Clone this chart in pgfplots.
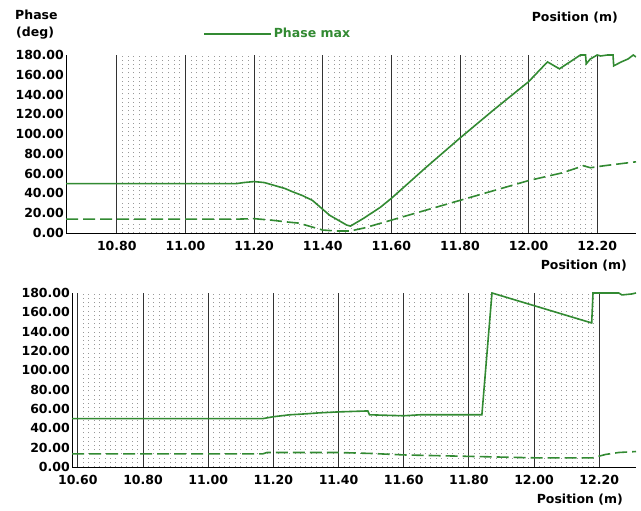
\documentclass[border=0pt]{standalone}
\usepackage{fontspec}
\setmainfont{DejaVu Sans}
\usepackage{pgfplots}
\pgfplotsset{compat=1.18}
\definecolor{phasegreen}{RGB}{50,138,50}

\newcommand{\lbl}{\fontsize{12.5bp}{15bp}\selectfont\bfseries}

% Top panel: phase along position
\pgfplotstableread{
x y
10.652 50
11.15 50
11.17 51
11.20 52
11.23 51
11.26 48
11.29 45
11.31 42
11.34 38
11.37 33
11.39 27
11.42 18
11.45 12
11.47 8
11.481 7
11.52 15
11.568 26
11.60 35
11.70 66
11.80 96
11.90 125
12.00 153
12.055 173
12.09 166
12.151 180
12.166 180
12.168 171
12.18 176
12.20 180
12.21 179
12.23 180
12.246 180
12.248 169
12.27 173
12.29 176
12.305 180
12.313 178
}\topmax
\pgfplotstableread{
x y
10.652 14
11.15 14
11.20 14.5
11.25 13
11.30 11
11.33 10
11.37 6
11.40 3
11.44 2
11.48 2
11.52 5
11.60 13
11.70 23
11.80 33
11.90 43
12.00 53
12.10 61
12.16 68
12.18 66
12.22 68
12.313 72
}\topmin
% Bottom panel
\pgfplotstableread{
x y
10.582 50
11.167 50
11.20 52
11.25 54
11.30 55
11.34 56
11.40 57
11.49 58
11.495 54
11.60 53
11.65 54
11.84 54
11.871 180
12.177 149
12.181 180
12.26 180
12.27 178
12.30 179
12.313 180
}\botmax
\pgfplotstableread{
x y
10.582 13.5
11.167 13.5
11.18 15
11.40 15
11.50 14
11.60 12.5
11.80 11
12.00 9.5
12.18 9.5
12.22 13
12.26 15
12.313 16
}\botmin

\pgfplotsset{
  phasepanel/.style={
    scale only axis,
    ymin=0, ymax=180,
    ytick={0,20,...,180},
    axis x line*=bottom, axis y line*=left,
    axis line style={-, black, line width=0.8bp},
    major tick length=0pt,
    minor tick length=0pt,
    xmajorgrids, xminorgrids,
    minor x tick num=11,
    major grid style={black!80, line width=0.8bp},
    minor grid style={black!40, line width=0.9bp, dash pattern=on 0.9bp off 3.3bp},
    tick label style={font=\lbl},
    /pgf/number format/assume math mode=true,
    /pgf/number format/fixed,
    /pgf/number format/fixed zerofill,
    /pgf/number format/precision=2,
    yticklabel style={inner sep=2bp},
    xticklabel style={yshift=-5bp},
    xlabel={Position (m)},
    xlabel style={font=\lbl, at={(axis description cs:1,0)}, anchor=north east,
      inner sep=0pt, xshift=-9bp, yshift=-27bp},
  },
  solidline/.style={phasegreen, line width=1.6bp},
  dashline/.style={phasegreen, line width=1.6bp, dash pattern=on 12bp off 5bp},
}

\begin{document}
\begin{tikzpicture}
\path[use as bounding box] (0bp,0bp) rectangle (641bp,511bp);

\begin{axis}[phasepanel,
  at={(66bp,278bp)}, anchor=south west,
  width=570bp, height=178bp,
  xmin=10.652, xmax=12.313,
  xtick={10.8,11.0,11.2,11.4,11.6,11.8,12.0,12.2},
  legend style={at={(axis description cs:0.2404,1.118)}, anchor=west,
    draw=none, fill=none, inner sep=0pt, font=\lbl, text=phasegreen},
  legend image code/.code={\draw[#1] (0bp,0bp) -- (67bp,0bp);},
]
\addplot[solidline] table {\topmax};
\addlegendentry{Phase max}
\addplot[dashline, forget plot] table {\topmin};
\end{axis}

\begin{axis}[phasepanel,
  at={(72bp,44bp)}, anchor=south west,
  width=564bp, height=174bp,
  xmin=10.582, xmax=12.313,
  xtick={10.6,10.8,11.0,11.2,11.4,11.6,11.8,12.0,12.2},
  xlabel style={xshift=-4bp},
]
\addplot[solidline] table {\botmax};
\addplot[dashline] table {\botmin};
\end{axis}

\node[font=\lbl, anchor=west, inner sep=0pt] at (15bp,496bp) {Phase};
\node[font=\lbl, anchor=west, inner sep=0pt] at (16bp,478bp) {(deg)};
\node[font=\lbl, anchor=east, inner sep=0pt] at (618bp,493bp) {Position (m)};
\end{tikzpicture}
\end{document}
